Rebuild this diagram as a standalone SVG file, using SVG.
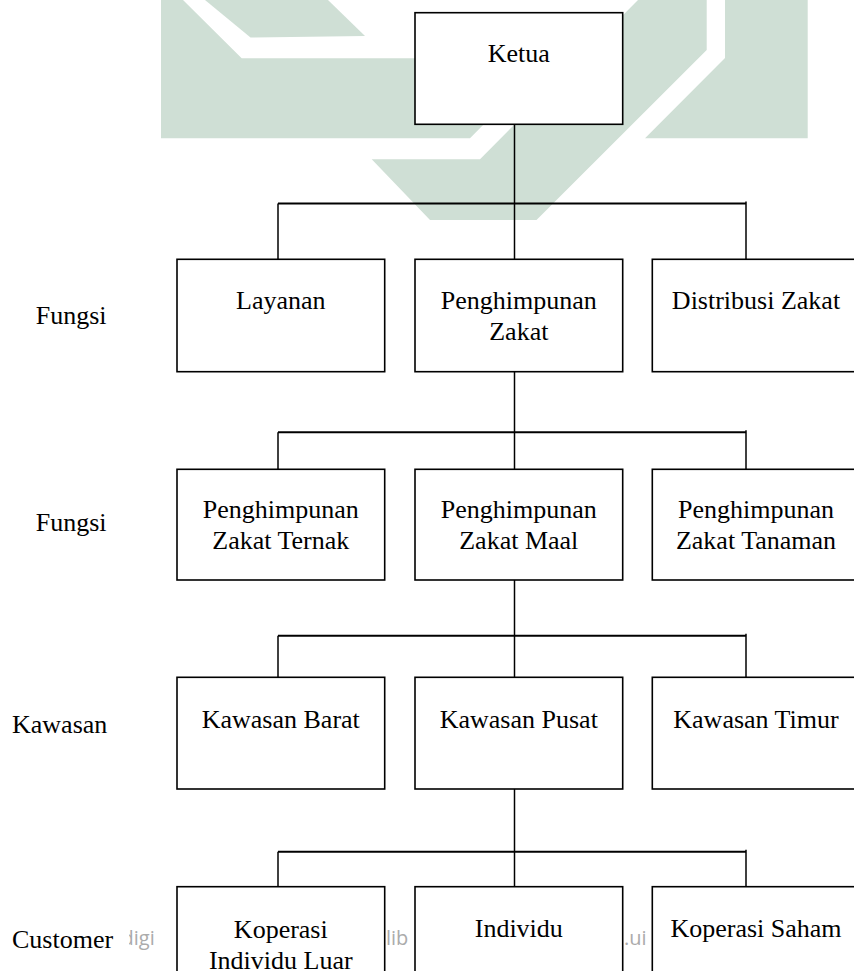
<svg xmlns="http://www.w3.org/2000/svg" width="854" height="971" viewBox="0 0 854 971">
<style>
.box{fill:#fff;stroke:#000;stroke-width:1.6}
.t{font-family:"Liberation Serif","Times New Roman",serif;font-size:26px;fill:#000;text-anchor:middle}
.side{font-family:"Liberation Serif","Times New Roman",serif;font-size:26px;fill:#000}
.wm{fill:#cfdfd5}
.wmt{font-family:"Open Sans","Liberation Sans",sans-serif;font-size:20px;fill:#ababab}
.ln{stroke:#000;stroke-width:1.5;fill:none}
.bar{stroke:#000;stroke-width:2;fill:none}
</style>
<defs>
<clipPath id="clipd"><rect x="129" y="900" width="60" height="60"/></clipPath>
</defs>
<rect width="854" height="971" fill="#fff"/>
<g id="watermark">
<polygon class="wm" points="161,0 183,0 241.7,58.3 549,58.3 470,138.3 161,138.3"/>
<polygon class="wm" points="205,0 328,0 365,36 250.5,37.5"/>
<polygon class="wm" points="638,0 706.7,0 706.7,50 536.5,220 430,220 371.7,159.3 480,159.3"/>
<polygon class="wm" points="725,0 807.7,0 807.7,138.3 645,138.3 725,58"/>
<text class="wmt" x="121.5" y="945" clip-path="url(#clipd)">digi</text>
<text class="wmt" x="386" y="945">lib</text>
<text class="wmt" x="624" y="945">.ui</text>
</g>
<g id="connectors">
<line class="ln" x1="514.5" y1="124.3" x2="514.5" y2="259.3"/>
<line class="bar" x1="278" y1="203.5" x2="746" y2="203.5"/>
<line class="ln" x1="278" y1="203.5" x2="278" y2="259.3"/>
<line class="ln" x1="746" y1="201.5" x2="746" y2="259.3"/>
<line class="ln" x1="514.5" y1="371.7" x2="514.5" y2="469.3"/>
<line class="bar" x1="278" y1="432.3" x2="746" y2="432.3"/>
<line class="ln" x1="278" y1="432.3" x2="278" y2="469.3"/>
<line class="ln" x1="746" y1="430.3" x2="746" y2="469.3"/>
<line class="ln" x1="514.5" y1="580" x2="514.5" y2="677.3"/>
<line class="bar" x1="278" y1="635.7" x2="746" y2="635.7"/>
<line class="ln" x1="278" y1="635.7" x2="278" y2="677.3"/>
<line class="ln" x1="746" y1="633.7" x2="746" y2="677.3"/>
<line class="ln" x1="514.5" y1="789" x2="514.5" y2="886.7"/>
<line class="bar" x1="278" y1="851.7" x2="746" y2="851.7"/>
<line class="ln" x1="278" y1="851.7" x2="278" y2="886.7"/>
<line class="ln" x1="746" y1="849.7" x2="746" y2="886.7"/>
</g>
<g id="labels">
<text class="side" x="35.7" y="324">Fungsi</text>
<text class="side" x="35.7" y="530.7">Fungsi</text>
<text class="side" x="12" y="732.7">Kawasan</text>
<text class="side" x="12" y="948.3">Customer</text>
</g>
<g id="ketua"><rect class="box" x="415" y="12.7" width="207.7" height="111.6"/><text class="t" x="518.8" y="62.2">Ketua</text></g>
<g id="layanan"><rect class="box" x="177" y="259.3" width="207.7" height="112.4"/><text class="t" x="280.8" y="309.3">Layanan</text></g>
<g id="penghimpunan-zakat"><rect class="box" x="415" y="259.3" width="207.7" height="112.4"/><text class="t" x="518.8" y="309.3">Penghimpunan</text><text class="t" x="518.8" y="340">Zakat</text></g>
<g id="distribusi-zakat"><rect class="box" x="652.3" y="259.3" width="210" height="112.4"/><text class="t" x="756" y="309.3">Distribusi Zakat</text></g>
<g id="zakat-ternak"><rect class="box" x="177" y="469.3" width="207.7" height="110.7"/><text class="t" x="280.8" y="518">Penghimpunan</text><text class="t" x="280.8" y="549">Zakat Ternak</text></g>
<g id="zakat-maal"><rect class="box" x="415" y="469.3" width="207.7" height="110.7"/><text class="t" x="518.8" y="518">Penghimpunan</text><text class="t" x="518.8" y="549">Zakat Maal</text></g>
<g id="zakat-tanaman"><rect class="box" x="652.3" y="469.3" width="210" height="110.7"/><text class="t" x="756" y="518">Penghimpunan</text><text class="t" x="756" y="549">Zakat Tanaman</text></g>
<g id="kawasan-barat"><rect class="box" x="177" y="677.3" width="207.7" height="111.7"/><text class="t" x="280.8" y="728">Kawasan Barat</text></g>
<g id="kawasan-pusat"><rect class="box" x="415" y="677.3" width="207.7" height="111.7"/><text class="t" x="518.8" y="728">Kawasan Pusat</text></g>
<g id="kawasan-timur"><rect class="box" x="652.3" y="677.3" width="210" height="111.7"/><text class="t" x="756" y="728">Kawasan Timur</text></g>
<g id="koperasi-individu-luar"><rect class="box" x="177" y="886.7" width="207.7" height="100"/><text class="t" x="280.8" y="937.8">Koperasi</text><text class="t" x="280.8" y="968.8">Individu Luar</text></g>
<g id="individu"><rect class="box" x="415" y="886.7" width="207.7" height="100"/><text class="t" x="518.8" y="936.8">Individu</text></g>
<g id="koperasi-saham"><rect class="box" x="652.3" y="886.7" width="210" height="100"/><text class="t" x="756" y="937.3">Koperasi Saham</text></g>
</svg>
